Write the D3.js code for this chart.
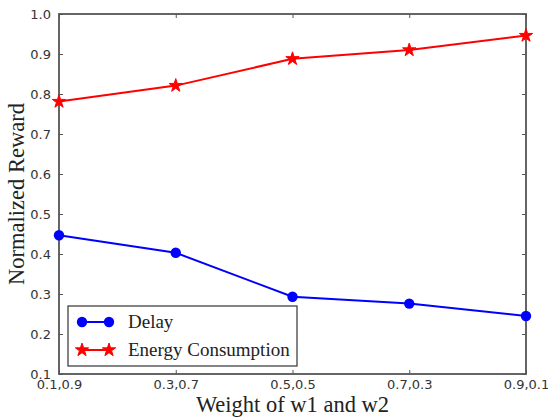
<!DOCTYPE html>
<html>
<head>
<meta charset="utf-8">
<script src="https://cdn.jsdelivr.net/npm/d3@7"></script>
<style>
  body { margin: 0; background: #fff; }
</style>
</head>
<body>
<svg id="chart" width="548" height="419"></svg>
<script>
const categories = ["0.1,0.9", "0.3,0.7", "0.5,0.5", "0.7,0.3", "0.9,0.1"];
const delayValues = [0.447, 0.403, 0.293, 0.276, 0.245];
const energyValues = [0.781, 0.821, 0.888, 0.910, 0.946];
const yTicks = [0.1, 0.2, 0.3, 0.4, 0.5, 0.6, 0.7, 0.8, 0.9, 1.0];

const svg = d3.select("#chart");
const margin = { top: 14, right: 22, bottom: 45, left: 59 };
const width = 548 - margin.left - margin.right;
const height = 419 - margin.top - margin.bottom;
const g = svg.append("g").attr("transform", "translate(" + margin.left + "," + margin.top + ")");

const xScale = d3.scalePoint().domain(categories).range([0, width]);
const yScale = d3.scaleLinear().domain([0.1, 1.0]).range([height, 0]);

const axisColor = "#555";
const tickFont = "DejaVu Sans, sans-serif";
const serif = "Liberation Serif, Times New Roman, serif";

// axes, ticks pointing inward on all four sides
const xAxis = g.append("g")
  .attr("transform", "translate(0," + height + ")")
  .call(d3.axisBottom(xScale).tickSizeInner(-4).tickSizeOuter(0).tickPadding(6));
const yAxis = g.append("g")
  .call(d3.axisLeft(yScale).tickValues(yTicks).tickFormat(d3.format(".1f")).tickSizeInner(-4).tickSizeOuter(0).tickPadding(8));
const xTop = g.append("g")
  .call(d3.axisTop(xScale).tickSizeInner(-4).tickSizeOuter(0).tickFormat(""));
const yRight = g.append("g")
  .attr("transform", "translate(" + width + ",0)")
  .call(d3.axisRight(yScale).tickValues(yTicks).tickSizeInner(-4).tickSizeOuter(0).tickFormat(""));

[xAxis, yAxis, xTop, yRight].forEach(a => {
  a.select(".domain").remove();
  a.selectAll("line").attr("stroke", axisColor).attr("stroke-width", 1);
  a.selectAll("text").attr("fill", "#333").style("font-family", tickFont).style("font-size", "13px");
});

g.append("rect")
  .attr("width", width).attr("height", height)
  .attr("fill", "none").attr("stroke", axisColor).attr("stroke-width", 1.8);

const line = d3.line()
  .x((d, i) => xScale(categories[i]))
  .y(d => yScale(d));

g.append("path").datum(delayValues)
  .attr("d", line).attr("fill", "none").attr("stroke", "#0000ff").attr("stroke-width", 2);
g.append("path").datum(energyValues)
  .attr("d", line).attr("fill", "none").attr("stroke", "#ff0000").attr("stroke-width", 2);

const star = d3.symbol().type(d3.symbolStar).size(55);

g.selectAll(".dot").data(delayValues).enter().append("circle")
  .attr("cx", (d, i) => xScale(categories[i]))
  .attr("cy", d => yScale(d))
  .attr("r", 5.2).attr("fill", "#0000ff");
g.selectAll(".star").data(energyValues).enter().append("path")
  .attr("d", star)
  .attr("transform", (d, i) => "translate(" + xScale(categories[i]) + "," + yScale(d) + ")")
  .attr("fill", "#ff0000").attr("stroke", "#ff0000").attr("stroke-width", 1);

// legend
const legend = g.append("g").attr("transform", "translate(9,292)");
legend.append("rect").attr("width", 229).attr("height", 60)
  .attr("fill", "#fff").attr("stroke", "#333").attr("stroke-width", 1.2);
const legendItems = [
  { label: "Delay", color: "#0000ff", type: "circle" },
  { label: "Energy Consumption", color: "#ff0000", type: "star" }
];
legendItems.forEach((it, i) => {
  const y = 16 + i * 28;
  const row = legend.append("g").attr("transform", "translate(0," + y + ")");
  row.append("line").attr("x1", 14).attr("x2", 41).attr("y1", 0).attr("y2", 0)
    .attr("stroke", it.color).attr("stroke-width", 2);
  [14, 41].forEach(x => {
    if (it.type === "circle") {
      row.append("circle").attr("cx", x).attr("cy", 0).attr("r", 5.2).attr("fill", it.color);
    } else {
      row.append("path").attr("d", star).attr("transform", "translate(" + x + ",0)")
        .attr("fill", it.color).attr("stroke", it.color).attr("stroke-width", 1);
    }
  });
  row.append("text").attr("x", 60).attr("y", 6)
    .style("font-family", serif).style("font-size", "19px")
    .attr("fill", "#222").text(it.label);
});

// axis labels
svg.append("text")
  .attr("x", margin.left + width / 2).attr("y", 412)
  .attr("text-anchor", "middle")
  .style("font-family", serif).style("font-size", "22.5px")
  .attr("fill", "#222").text("Weight of w1 and w2");
svg.append("text")
  .attr("transform", "translate(24," + (margin.top + height / 2) + ") rotate(-90)")
  .attr("text-anchor", "middle")
  .style("font-family", serif).style("font-size", "22.5px")
  .attr("fill", "#222").text("Normalized Reward");
</script>
</body>
</html>
